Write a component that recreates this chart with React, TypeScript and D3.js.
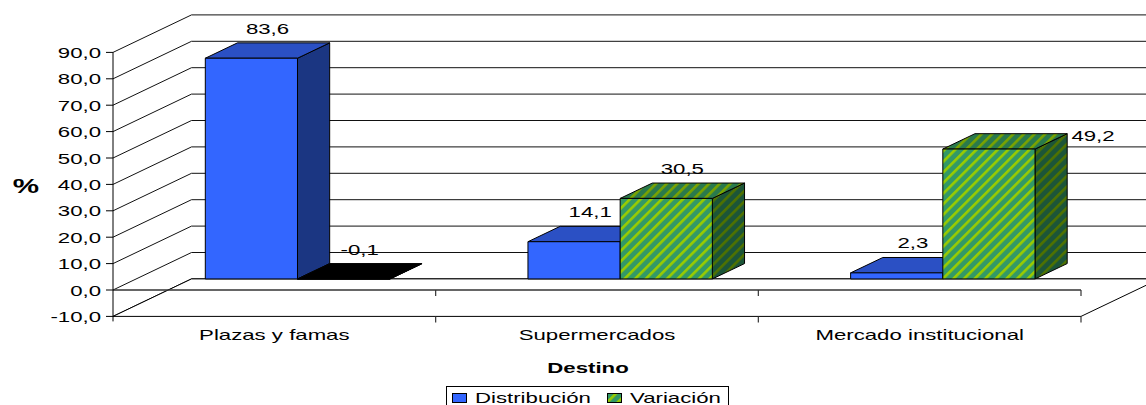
import React from "react";
import * as d3 from "d3";

// ---- data ----
const categories = ["Plazas y famas", "Supermercados", "Mercado institucional"];
const seriesNames = ["Distribución", "Variación"];
const distribucion = [83.6, 14.1, 2.3];
const variacion = [-0.1, 30.5, 49.2];
const yTicks = [-10, 0, 10, 20, 30, 40, 50, 60, 70, 80, 90];
const yAxisTitle = "%";
const xAxisTitle = "Destino";

// ---- layout ----
const W = 1146;
const H = 405;
const FRONT_LEFT = 113;
const FRONT_RIGHT = 1081;
const DX = 78.5;
const DY = -37.5;
const D0 = 0.295;
const D1 = 0.705;
const SX = 1.48;
const FONT = "Arial, 'Liberation Sans', sans-serif";

const seriesStyle = [
  { front: "#3366FF", top: "#2B50C4", side: "#1B3682" },
  { front: "url(#stripeFront)", top: "url(#stripeTop)", side: "url(#stripeSide)" },
];

const fmt = (v: number) => v.toFixed(1).replace(".", ",");

function T({ x, y, children, size = 15, anchor = "middle", weight = "normal" }: any) {
  return (
    <text
      transform={`translate(${x},${y}) scale(${SX},1)`}
      textAnchor={anchor}
      fontFamily={FONT}
      fontSize={size}
      fontWeight={weight}
      fill="#000"
    >
      {children}
    </text>
  );
}

export default function App() {
  const y = d3.scaleLinear().domain([-10, 90]).range([316.4, 52.4]);
  const x0 = d3.scaleBand<string>().domain(categories).range([FRONT_LEFT, FRONT_RIGHT]);
  const x1 = d3
    .scaleBand<string>()
    .domain(seriesNames)
    .range([0, x0.bandwidth()])
    .paddingInner(0)
    .paddingOuter(0.75);

  const P = (x: number, v: number, d: number): [number, number] => [x + d * DX, y(v) + d * DY];
  const pts = (arr: [number, number][]) => arr.map((p) => p.join(",")).join(" ");

  const yMin = -10;
  const yMax = 90;

  const values = [distribucion, variacion];

  const bars: any[] = [];
  const labels: any[] = [];
  categories.forEach((c, i) => {
    seriesNames.forEach((s, j) => {
      const v = values[j][i];
      const xl = (x0(c) as number) + (x1(s) as number);
      const xr = xl + x1.bandwidth();
      const top = Math.max(v, 0);
      const bot = Math.min(v, 0);
      const st = seriesStyle[j];
      const neg = v < 0;
      bars.push(
        <g key={`b${i}${j}`} stroke="#000" strokeWidth={1} strokeLinejoin="round">
          <polygon
            points={pts([P(xr, top, D0), P(xr, top, D1), P(xr, bot, D1), P(xr, bot, D0)])}
            fill={neg ? "#000" : st.side}
          />
          <polygon
            points={pts([P(xl, top, D0), P(xr, top, D0), P(xr, top, D1), P(xl, top, D1)])}
            fill={neg ? "#000" : st.top}
          />
          <polygon
            points={pts([P(xl, top, D0), P(xr, top, D0), P(xr, bot, D0), P(xl, bot, D0)])}
            fill={neg ? "#000" : st.front}
          />
        </g>
      );
      let lx = (xl + xr) / 2 + ((D0 + D1) / 2) * DX;
      let ly = y(top) + D1 * DY - 9;
      if (i === 2 && j === 1) {
        lx += 88;
        ly += 16;
      }
      labels.push(
        <T key={`l${i}${j}`} x={lx} y={ly} size={15}>
          {fmt(v)}
        </T>
      );
    });
  });

  const boundaries = [FRONT_LEFT, ...categories.map((c) => (x0(c) as number) + x0.bandwidth())];

  return (
    <svg width={W} height={H} style={{ position: "absolute", left: 0, top: 0, background: "#fff" }}>
      <defs>
        <pattern id="stripeFront" patternUnits="userSpaceOnUse" width={7.5} height={7.5} patternTransform="rotate(45)">
          <rect width={7.5} height={7.5} fill="#339966" />
          <rect width={2.6} height={7.5} fill="#99CC00" />
        </pattern>
        <pattern id="stripeTop" patternUnits="userSpaceOnUse" width={7.5} height={7.5} patternTransform="rotate(45)">
          <rect width={7.5} height={7.5} fill="#2A7A4C" />
          <rect width={2.6} height={7.5} fill="#7AA300" />
        </pattern>
        <pattern id="stripeSide" patternUnits="userSpaceOnUse" width={7.5} height={7.5} patternTransform="rotate(45)">
          <rect width={7.5} height={7.5} fill="#1C5538" />
          <rect width={2.6} height={7.5} fill="#4F7200" />
        </pattern>
      </defs>
      <rect width={W} height={H} fill="#fff" />

      {/* walls */}
      <polygon
        points={pts([P(FRONT_LEFT, yMax, 1), P(FRONT_RIGHT, yMax, 1), P(FRONT_RIGHT, yMin, 1), P(FRONT_LEFT, yMin, 1)])}
        fill="#fff"
      />
      <polygon
        points={pts([P(FRONT_LEFT, yMax, 0), P(FRONT_LEFT, yMax, 1), P(FRONT_LEFT, yMin, 1), P(FRONT_LEFT, yMin, 0)])}
        fill="#fff"
      />
      {/* gridlines */}
      <g fill="none" stroke="#111" strokeWidth={1}>
        {yTicks.map((t) => (
          <polyline key={t} points={pts([P(FRONT_LEFT, t, 0), P(FRONT_LEFT, t, 1), P(FRONT_RIGHT, t, 1)])} />
        ))}
      </g>
      {/* floor */}
      <polygon
        points={pts([P(FRONT_LEFT, yMin, 0), P(FRONT_RIGHT, yMin, 0), P(FRONT_RIGHT, yMin, 1), P(FRONT_LEFT, yMin, 1)])}
        fill="#fff"
        stroke="#000"
        strokeWidth={1}
      />
      {/* zero line on front */}
      <line x1={FRONT_LEFT} x2={FRONT_RIGHT} y1={y(0)} y2={y(0)} stroke="#333" strokeWidth={1.5} />
      {boundaries.slice(1).map((bx, k) => (
        <g key={k} stroke="#333" strokeWidth={1.2}>
          <line x1={bx} x2={bx} y1={y(0)} y2={y(0) + 6} />
          <line x1={bx} x2={bx} y1={y(yMin)} y2={y(yMin) + 6} />
        </g>
      ))}

      {/* bars */}
      {bars}

      {/* y axis */}
      <line x1={FRONT_LEFT} x2={FRONT_LEFT} y1={y(yMax)} y2={y(yMin) + 5} stroke="#000" strokeWidth={1} />
      {yTicks.map((t) => (
        <g key={t}>
          <line x1={FRONT_LEFT - 7} x2={FRONT_LEFT} y1={y(t)} y2={y(t)} stroke="#000" />
          <T x={101} y={y(t) + 5.5} anchor="end" size={15}>
            {fmt(t)}
          </T>
        </g>
      ))}
      <T x={26} y={193} anchor="middle" size={20} weight="bold">
        {yAxisTitle}
      </T>

      {/* data labels */}
      {labels}

      {/* category labels */}
      {categories.map((c) => (
        <T key={c} x={(x0(c) as number) + x0.bandwidth() / 2} y={340} size={15}>
          {c}
        </T>
      ))}
      <T x={588} y={373} size={15} weight="bold">
        {xAxisTitle}
      </T>

      {/* legend */}
      <rect x={446.5} y={386.5} width={282} height={30} fill="#fff" stroke="#000" strokeWidth={1} />
      <rect x={452.5} y={393.5} width={14} height={9} fill="#3366FF" stroke="#000" />
      <T x={475} y={403} anchor="start" size={15}>
        {seriesNames[0]}
      </T>
      <rect x={607.5} y={393.5} width={14} height={9} fill="url(#stripeFront)" stroke="#000" />
      <T x={630} y={403} anchor="start" size={15}>
        {seriesNames[1]}
      </T>
    </svg>
  );
}
